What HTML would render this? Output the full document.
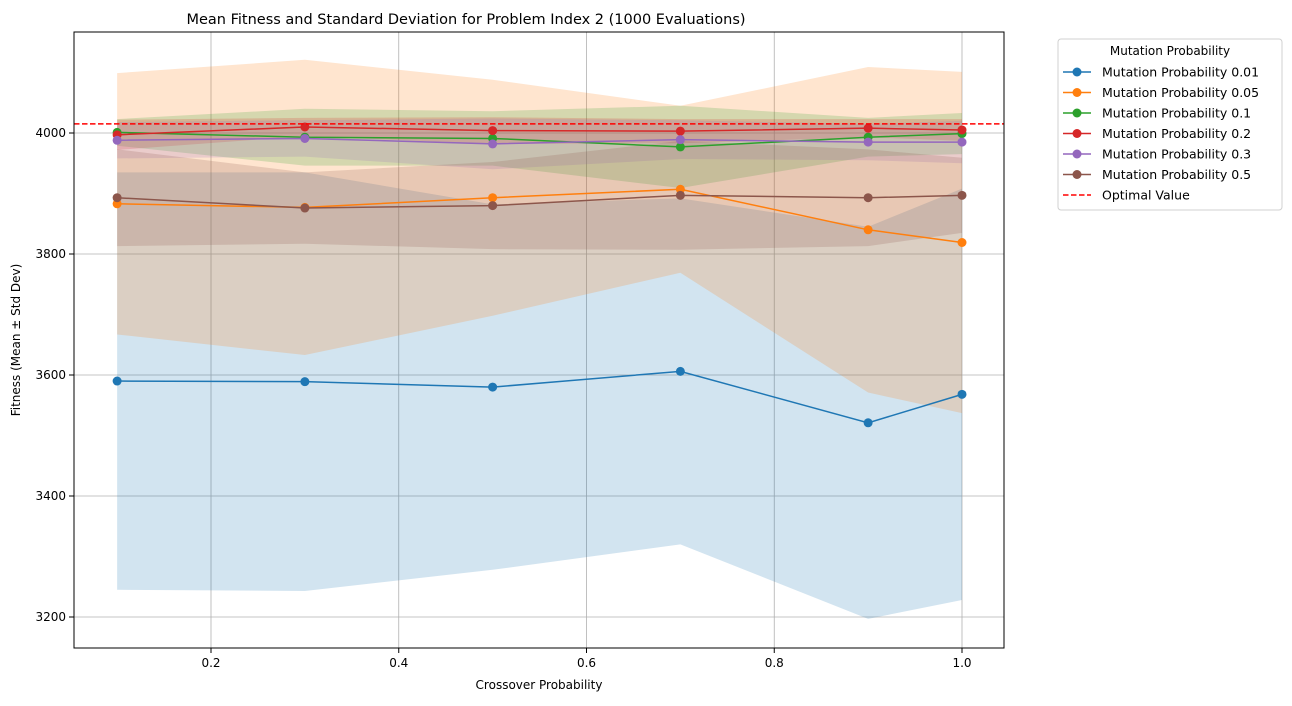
<!DOCTYPE html>
<html><head><meta charset="utf-8"><style>
body{margin:0;background:#fff;font-family:"Liberation Sans","DejaVu Sans",sans-serif}
svg text{font-family:"DejaVu Sans","Liberation Sans",sans-serif}
</style></head><body>
<svg id="chart" width="1292" height="701" xmlns="http://www.w3.org/2000/svg">
<rect width="1292" height="701" fill="#fff"/>
<g id="grid"></g><g id="bands"></g><g id="lines"></g><g id="axes"></g><g id="legend"></g>
</svg>
<script>
const xVals=[0.1,0.3,0.5,0.7,0.9,1.0];
const seriesNames=["Mutation Probability 0.01","Mutation Probability 0.05","Mutation Probability 0.1","Mutation Probability 0.2","Mutation Probability 0.3","Mutation Probability 0.5"];
const colors=["#1f77b4","#ff7f0e","#2ca02c","#d62728","#9467bd","#8c564b"];
const mean001=[3590,3589,3580,3606,3521,3568];
const std001=[345,346,302,286,324,340];
const mean005=[3883,3877,3893,3907,3840,3819];
const std005=[216,244,195,138,269,282];
const mean01=[4001,3993,3991,3977,3993,3999];
const std01=[22,47,45,68,32,34];
const mean02=[3997,4010,4004,4003,4008,4005];
const std02=[25,15,22,20,15,18];
const mean03=[3988,3991,3982,3989,3985,3985];
const std03=[30,30,42,32,30,35];
const mean05=[3893,3876,3880,3897,3893,3897];
const std05=[80,59,72,90,80,62];
const optimal=4015;
const xTicks=[0.2,0.4,0.6,0.8,1.0];
const yTicks=[3200,3400,3600,3800,4000];
const means=[mean001,mean005,mean01,mean02,mean03,mean05];
const stds=[std001,std005,std01,std02,std03,std05];
const L=74,R=1004,T=32,B=648;
const X=v=>211+(v-0.2)*938.75;
const Y=v=>133+(4000-v)*0.605;
const NS="http://www.w3.org/2000/svg";
function mk(tag,attrs,parent){const e=document.createElementNS(NS,tag);for(const k in attrs)e.setAttribute(k,attrs[k]);parent.appendChild(e);return e;}
const grid=document.getElementById('grid'),bands=document.getElementById('bands'),lines=document.getElementById('lines'),axes=document.getElementById('axes'),legend=document.getElementById('legend');
xTicks.forEach(t=>{const l=mk('line',{x1:X(t),x2:X(t),y1:T,y2:B,stroke:'#b0b0b0','stroke-width':0.8},grid);


const k=mk('line',{x1:X(t),x2:X(t),y1:B,y2:B+5,stroke:'#000'},axes);
const tx=mk('text',{x:X(t),y:B+19,'font-size':12,'text-anchor':'middle'},axes);tx.textContent=t.toFixed(1);

});
yTicks.forEach(t=>{const l=mk('line',{x1:L,x2:R,y1:Y(t),y2:Y(t),stroke:'#b0b0b0','stroke-width':0.8},grid);


mk('line',{x1:L-5,x2:L,y1:Y(t),y2:Y(t),stroke:'#000'},axes);
const tx=mk('text',{x:L-8,y:Y(t)+4,'font-size':12,'text-anchor':'end'},axes);tx.textContent=t;

});
means.forEach((m,i)=>{
 const up=xVals.map((x,j)=>X(x)+','+Y(m[j]+stds[i][j]));
 const lo=xVals.map((x,j)=>X(x)+','+Y(m[j]-stds[i][j])).reverse();
 const p=mk('polygon',{points:up.concat(lo).join(' '),fill:colors[i],'fill-opacity':0.2},bands);
 
 
 const pl=mk('polyline',{points:xVals.map((x,j)=>X(x)+','+Y(m[j])).join(' '),fill:'none',stroke:colors[i],'stroke-width':1.5},lines);
 
 
 xVals.forEach((x,j)=>{const c=mk('circle',{cx:X(x),cy:Y(m[j]),r:4.5,fill:colors[i]},lines);
 
 });
});
const opt=mk('line',{x1:L,x2:R,y1:Y(optimal),y2:Y(optimal),stroke:'#ff0000','stroke-width':1.5,'stroke-dasharray':'5.5,2.5'},lines);


const fr=mk('rect',{x:L,y:T,width:R-L,height:B-T,fill:'none',stroke:'#000','stroke-width':1},axes);


let t=mk('text',{x:466,y:24,'font-size':14.5,'text-anchor':'middle'},axes);t.textContent='Mean Fitness and Standard Deviation for Problem Index 2 (1000 Evaluations)';


t=mk('text',{x:539,y:689,'font-size':12,'text-anchor':'middle'},axes);t.textContent='Crossover Probability';


t=mk('text',{x:20,y:340,'font-size':12,'text-anchor':'middle',transform:'rotate(-90 20 340)'},axes);t.textContent='Fitness (Mean ± Std Dev)';


const lb=mk('rect',{x:1058,y:39,width:224,height:171,rx:3,fill:'#fff',stroke:'#d0d0d0'},legend);


t=mk('text',{x:1170,y:55,'font-size':12,'text-anchor':'middle'},legend);t.textContent='Mutation Probability';


seriesNames.concat(['Optimal Value']).forEach((n,i)=>{
 const y=72+i*20.5;
 const g=mk('g',{},legend);
 
 
 if(i<6){mk('line',{x1:1063,x2:1091,y1:y,y2:y,stroke:colors[i],'stroke-width':1.5},g);mk('circle',{cx:1077,cy:y,r:4.5,fill:colors[i]},g);}
 else mk('line',{x1:1063,x2:1091,y1:y,y2:y,stroke:'#ff0000','stroke-width':1.5,'stroke-dasharray':'5.5,2.5'},g);
 const tx=mk('text',{x:1102,y:y+4.5,'font-size':12.5},g);tx.textContent=n;
});
</script>
</body></html>
